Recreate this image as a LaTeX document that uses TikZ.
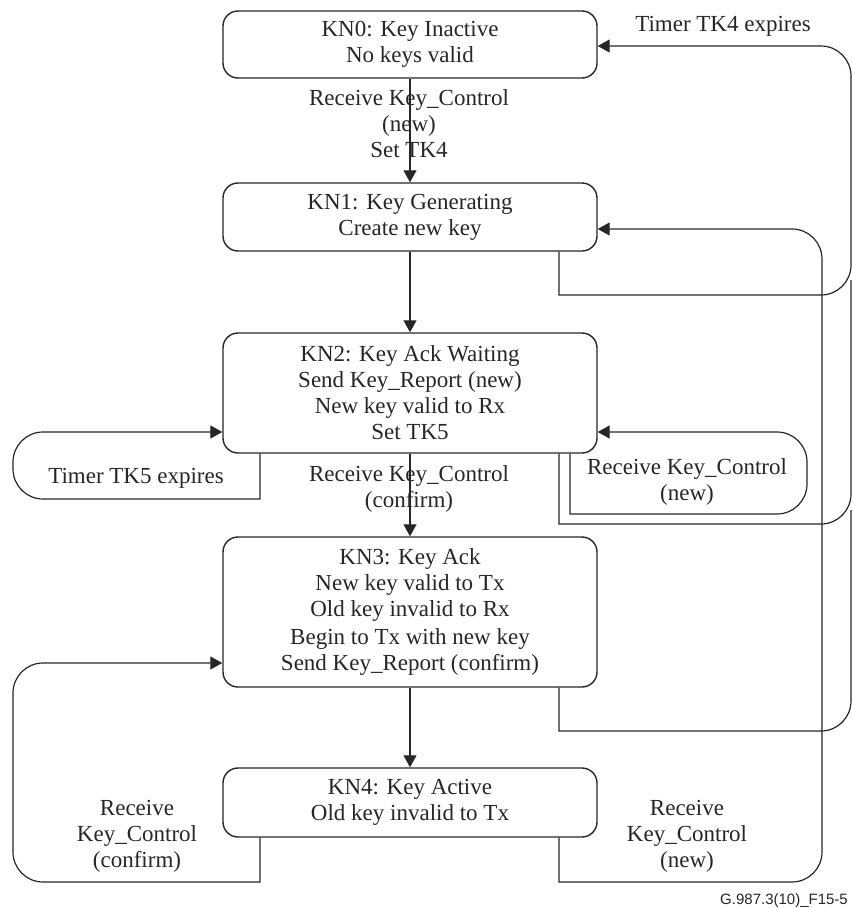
\documentclass[tikz,border=0pt]{standalone}
\usepackage{fontspec}
\setmainfont{Liberation Serif}
\newfontfamily\footfont{Liberation Sans}
\usetikzlibrary{arrows.meta}
\begin{document}
\begin{tikzpicture}[x=1pt,y=-1pt,
  state/.style={draw=black!85, line width=1.4pt, rounded corners=15pt, minimum width=374pt, align=center, font=\fontsize{23}{26}\selectfont, inner sep=0pt, text=black!85},
  lbl/.style={align=center, font=\fontsize{23}{26}\selectfont, inner sep=1pt, text=black!85},
  conn/.style={draw=black!85, line width=1.2pt},
  arr/.style={conn, -{Triangle[length=12pt,width=13pt]}}]
\useasboundingbox (0,0) rectangle (852,908);

% states
\node[state, minimum height=67pt] (kn0) at (410,44.5) {KN0: Key Inactive\\No keys valid};
\node[state, minimum height=68pt] (kn1) at (410,217) {KN1: Key Generating\\Create new key};
\node[state, minimum height=120pt] (kn2) at (410,393) {KN2: Key Ack Waiting\\Send Key\_Report (new)\\New key valid to Rx\\Set TK5};
\node[state, minimum height=150pt] (kn3) at (410,612) {KN3: Key Ack\\New key valid to Tx\\Old key invalid to Rx\\[2pt]Begin to Tx with new key\\Send Key\_Report (confirm)};
\node[state, minimum height=69pt] (kn4) at (410,802.5) {KN4: Key Active\\Old key invalid to Tx};

% helper coordinates
\coordinate (xa) at (559,0);
\coordinate (xb) at (570,0);
\coordinate (xc) at (260,0);
\coordinate (y0) at (0,46);
\coordinate (y1) at (0,229);
\coordinate (y2) at (0,432);
\coordinate (y3) at (0,663);

% main downward transitions
\draw[arr] (kn0.south) -- (kn1.north);
\draw[arr] (kn1.south) -- (kn2.north);
\draw[arr] (kn2.south) -- (kn3.north);
\draw[arr] (kn3.south) -- (kn4.north);

% timer TK4 expiry back to KN0
\draw[arr] (kn1.south -| xa) -- (559,295) [rounded corners=30pt] -- (851,295) -- (851,46) -- (kn0.east |- y0);
\draw[conn] (kn2.south -| xa) -- (559,524) [rounded corners=30pt] -- (851,524) -- (851,280);
\draw[conn] (kn3.south -| xa) -- (559,731) [rounded corners=30pt] -- (851,731) -- (851,510);

% KN4 -> KN1 (receive new)
\draw[arr] (kn4.south -| xa) -- (559,882) [rounded corners=30pt] -- (822,882) -- (822,229) -- (kn1.east |- y1);

% KN2 self loops
\draw[arr] (kn2.south -| xb) -- (570,514) [rounded corners=30pt] -- (807,514) -- (807,432) -- (kn2.east |- y2);
\draw[arr] (kn2.south -| xc) -- (260,499) [rounded corners=30pt] -- (13,499) -- (13,432) -- (kn2.west |- y2);

% KN4 -> KN3 (receive confirm)
\draw[arr] (kn4.south -| xc) -- (260,882) [rounded corners=30pt] -- (13,882) -- (13,663) -- (kn3.west |- y3);

% labels
\node[lbl] (l01) at (409,124) {Receive Key\_Control\\(new)\\Set TK4};
\node[lbl] (l23) at (409,489) {Receive Key\_Control\\(confirm)};
\node[lbl] (ltk4) at (723,26) {Timer TK4 expires};
\node[lbl] (ltk5) at (136,478) {Timer TK5 expires};
\node[lbl] (lnew2) at (687,482) {Receive Key\_Control\\(new)};
\node[lbl] (lconf4) at (137,836) {Receive\\Key\_Control\\(confirm)};
\node[lbl] (lnew4) at (687,836) {Receive\\Key\_Control\\(new)};

\node[font=\footfont\fontsize{15}{18}\selectfont, anchor=east, inner sep=0pt, text=black!85] (fig) at (848,901) {G.987.3(10)\_F15-5};
\end{tikzpicture}
\end{document}
